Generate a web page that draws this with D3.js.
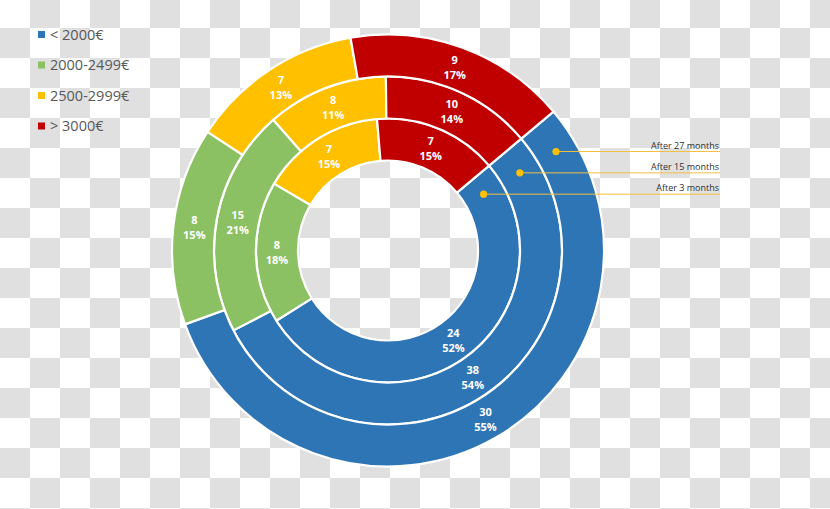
<!DOCTYPE html>
<html>
<head>
<meta charset="utf-8">
<script src="https://cdn.jsdelivr.net/npm/d3@7"></script>
<style>
  html, body { margin: 0; padding: 0; background: #ffffff; }
  svg { display: block; }
</style>
</head>
<body>
<svg id="chart" width="830" height="509"></svg>
<script>
// ---- data ----
const categories = ["< 2000€", "2000-2499€", "2500-2999€", "> 3000€"];
const rings = ["After 3 months", "After 15 months", "After 27 months"]; // inner -> outer
const after3 = [24, 8, 7, 7];
const after3Pct = ["52%", "18%", "15%", "15%"];
const after15 = [38, 15, 8, 10];
const after15Pct = ["54%", "21%", "11%", "14%"];
const after27 = [30, 8, 7, 9];
const after27Pct = ["55%", "15%", "13%", "17%"];
const annotationLabels = ["After 3 months", "After 15 months", "After 27 months"];

// ---- setup ----
const W = 830, H = 509;
const cx = 388, cy = 250.5;
const colors = ["#2e75b6", "#8cc163", "#ffc000", "#c00000"];
const svg = d3.select("#chart");

// checkerboard (transparent background look)
const defs = svg.append("defs");
const pat = defs.append("pattern").attr("id", "checker")
  .attr("patternUnits", "userSpaceOnUse")
  .attr("x", 0).attr("y", -2).attr("width", 60).attr("height", 60);
pat.append("rect").attr("width", 60).attr("height", 60).attr("fill", "#ffffff");
pat.append("rect").attr("x", 30).attr("y", 0).attr("width", 30).attr("height", 30).attr("fill", "#e0e0e0");
pat.append("rect").attr("x", 0).attr("y", 30).attr("width", 30).attr("height", 30).attr("fill", "#e0e0e0");
svg.append("rect").attr("width", W).attr("height", H).attr("fill", "url(#checker)");

const ringData = [
  { name: rings[0], values: after3, pct: after3Pct },
  { name: rings[1], values: after15, pct: after15Pct },
  { name: rings[2], values: after27, pct: after27Pct }
];

const rScale = d3.scaleBand().domain(rings).range([90, 216]).padding(0);
const startA = 50 * Math.PI / 180;
const pie = d3.pie().sort(null).value(d => d).startAngle(startA).endAngle(startA + 2 * Math.PI);

const g = svg.append("g").attr("transform", `translate(${cx},${cy})`);

ringData.forEach(ring => {
  const r0 = rScale(ring.name), r1 = r0 + rScale.bandwidth();
  const arc = d3.arc().innerRadius(r0).outerRadius(r1);
  const arcs = pie(ring.values);
  const rg = g.append("g");
  rg.selectAll("path").data(arcs).join("path")
    .attr("d", arc)
    .attr("fill", (d, i) => colors[i])
    .attr("stroke", "#ffffff")
    .attr("stroke-width", 2.2);
  const lbl = rg.selectAll("text").data(arcs).join("text")
    .attr("transform", d => `translate(${arc.centroid(d)})`)
    .attr("text-anchor", "middle")
    .attr("fill", "#ffffff")
    .attr("font-family", "'Open Sans', sans-serif")
    .attr("font-weight", "bold")
    .attr("font-size", "11px");
  lbl.append("tspan").attr("x", 0).attr("y", -3.5).text(d => d.data);
  lbl.append("tspan").attr("x", 0).attr("y", 11.5).text((d, i) => ring.pct[i]);
});

// annotations pointing to the blue segment of each ring
const annAngle = 59.5 * Math.PI / 180;
const labelRight = 720;
const ann = svg.append("g");
ringData.forEach((ring, k) => {
  const rm = rScale(ring.name) + rScale.bandwidth() / 2;
  const x = cx + rm * Math.sin(annAngle);
  const y = cy - rm * Math.cos(annAngle);
  ann.append("line")
    .attr("x1", x).attr("y1", y).attr("x2", labelRight).attr("y2", y)
    .attr("stroke", "#f2c040").attr("stroke-width", 1);
  ann.append("circle").attr("cx", x).attr("cy", y).attr("r", 3.6).attr("fill", "#ffc000");
  ann.append("text")
    .attr("x", labelRight - 1).attr("y", y - 3)
    .attr("text-anchor", "end")
    .attr("font-family", "'Open Sans', sans-serif")
    .attr("font-size", "9px")
    .attr("fill", "#303030")
    .text(annotationLabels[k]);
});

// legend
const legend = svg.append("g");
categories.forEach((c, i) => {
  const y = 34.5 + i * 30.5;
  legend.append("rect").attr("x", 38).attr("y", y - 3.5).attr("width", 7).attr("height", 7).attr("fill", colors[i]);
  legend.append("text").attr("x", 50).attr("y", y + 5)
    .attr("font-family", "'Open Sans', sans-serif")
    .attr("font-size", "14.5px")
    .attr("fill", "#595959")
    .text(c);
});
</script>
</body>
</html>
